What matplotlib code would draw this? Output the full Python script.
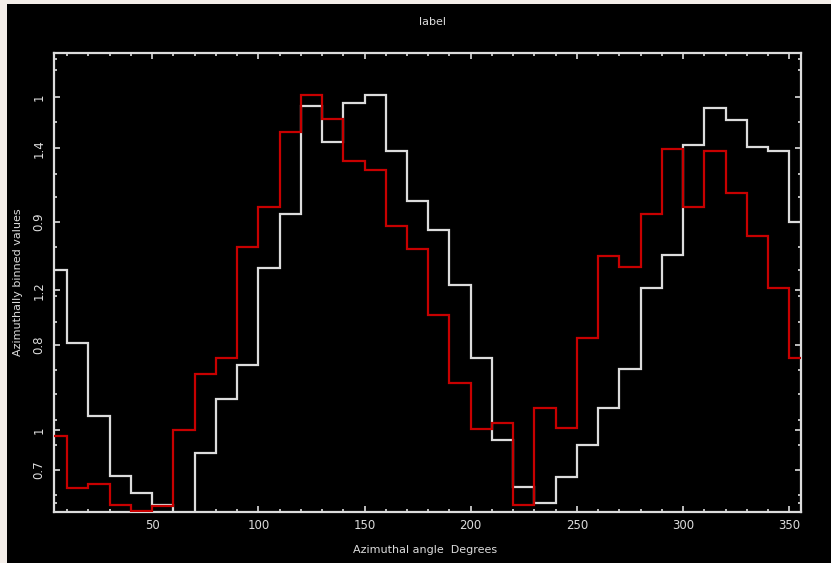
import numpy as np
import matplotlib
matplotlib.use("Agg")
import matplotlib.pyplot as plt
from matplotlib.patches import Rectangle
from matplotlib.ticker import FixedLocator, FixedFormatter, MultipleLocator

# bin edges in degrees (10-degree bins)
bin_edges = list(range(0, 370, 10))

# values in axis-height percent units (y axis labels are irregular)
white_values = [52.7, 36.8, 20.8, 7.8, 4.0, 1.4, -5.0, 12.9, 24.5, 31.9,
                53.2, 64.9, 88.4, 80.5, 89.1, 90.9, 78.6, 67.8, 61.4, 49.5,
                33.6, 15.6, 5.4, 1.8, 7.6, 14.5, 22.7, 31.2, 48.7, 55.9,
                79.9, 88.1, 85.3, 79.5, 78.6, 63.1]
red_values = [16.5, 5.2, 6.0, 1.5, 0.2, 1.2, 17.8, 30.0, 33.4, 57.8,
              66.4, 82.7, 90.9, 85.7, 76.4, 74.6, 62.3, 57.2, 42.9, 28.0,
              18.0, 19.3, 1.5, 22.7, 18.2, 37.8, 55.7, 53.3, 64.9, 79.0,
              66.5, 78.6, 69.4, 60.1, 48.7, 33.6]

ytick_positions = [90.4, 79.2, 63.2, 48.3, 36.3, 17.8, 9.1]
ytick_labels = ["1", "1.4", "0.9", "1.2", "0.8", "1", "0.7"]
ytick_minor = [98.8, 96.2, 85.0, 73.7, 68.6, 57.7, 52.7, 47.1, 41.4,
               30.9, 25.6, 20.0, 14.5, 3.6, 1.9]
xtick_major = [50, 100, 150, 200, 250, 300, 350]

title = "label"
xlabel = "Azimuthal angle  Degrees"
ylabel = "Azimuthally binned values"

fg = "#dcdcdc"
red = "#c80000"

fig = plt.figure(figsize=(8.31, 5.63), dpi=100, facecolor="#f4eee9")
fig.patches.append(Rectangle((7 / 831, 0), 1 - 7 / 831, 1 - 4 / 563,
                             transform=fig.transFigure, facecolor="black",
                             edgecolor="none", zorder=-10))

ax = fig.add_axes([54 / 831, (563 - 511.7) / 563, 747 / 831, 458.7 / 563])
ax.set_zorder(1)
ax.set_facecolor("black")

ax.stairs(white_values, bin_edges, baseline=None, color=fg, linewidth=1.6, zorder=2)
ax.stairs(red_values, bin_edges, baseline=None, color=red, linewidth=1.6, zorder=3)

ax.set_xlim(3.8, 355.5)
ax.set_ylim(0, 100)

for s in ax.spines.values():
    s.set_color(fg)
    s.set_linewidth(1.6)

ax.xaxis.set_major_locator(FixedLocator(xtick_major))
ax.xaxis.set_minor_locator(MultipleLocator(10))
ax.yaxis.set_major_locator(FixedLocator(ytick_positions))
ax.yaxis.set_major_formatter(FixedFormatter(ytick_labels))
ax.yaxis.set_minor_locator(FixedLocator(ytick_minor))

ax.tick_params(axis="both", which="both", direction="in", colors=fg,
               top=True, right=True, width=1.2)
ax.tick_params(axis="both", which="major", length=4.5, labelsize=8.5)
ax.tick_params(axis="both", which="minor", length=2.5)
ax.tick_params(axis="x", which="major", pad=5)
ax.tick_params(axis="y", which="major", pad=6)
for lab in ax.get_yticklabels():
    lab.set_rotation(90)
    lab.set_va("center")

ax.set_xlabel(xlabel, color=fg, fontsize=8)
ax.xaxis.set_label_coords(0.497, -0.072)
ax.set_ylabel(ylabel, color=fg, fontsize=8)
ax.yaxis.set_label_coords(-0.042, 0.5)
ax.text(0.507, 1.0676, title, transform=ax.transAxes, ha="center",
        va="center", color=fg, fontsize=8)

fig.savefig("out.png", dpi=100, facecolor=fig.get_facecolor())
